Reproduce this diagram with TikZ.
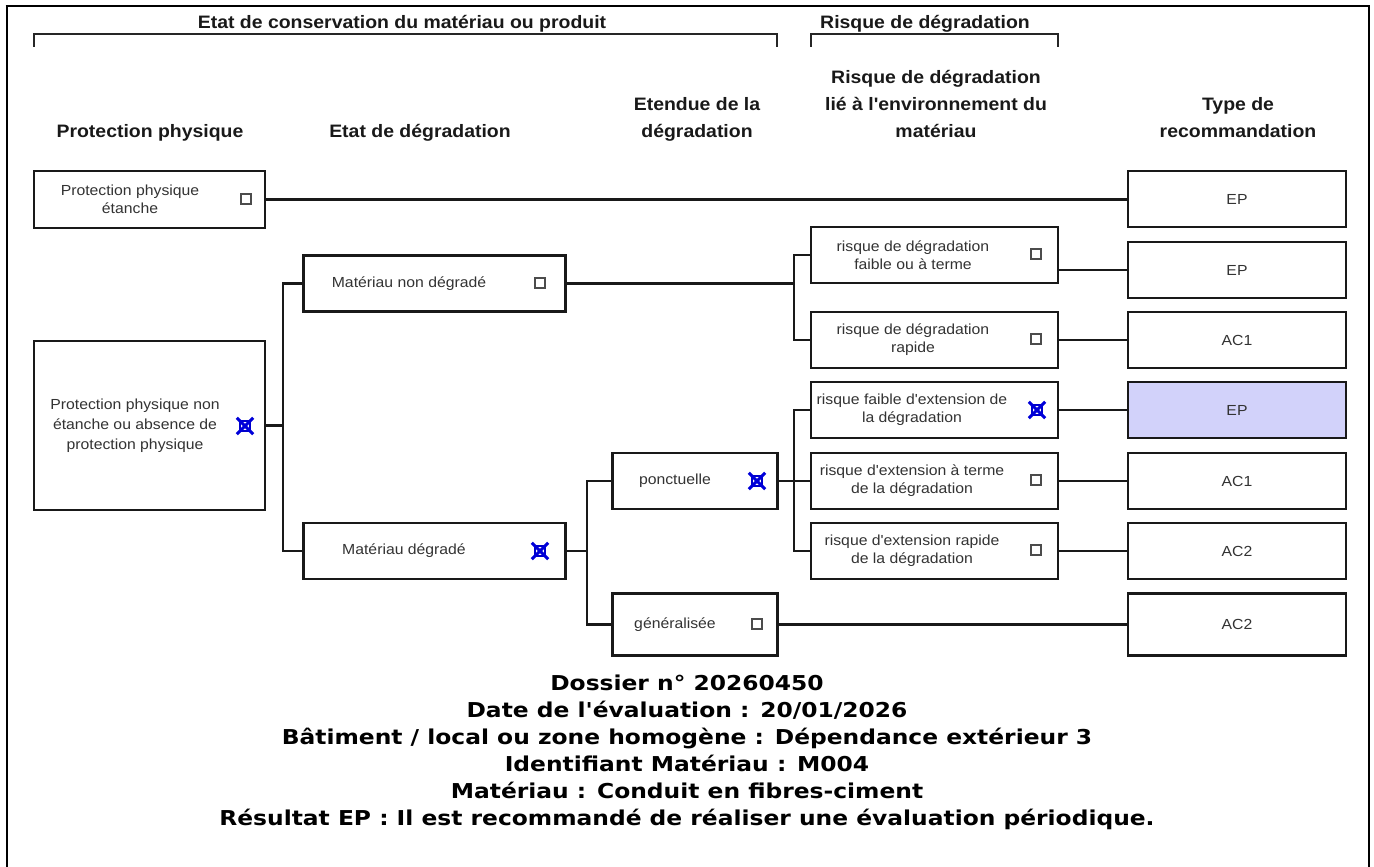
\documentclass[tikz,border=0pt]{standalone}
\usepackage{fontspec}
\setmainfont{Liberation Sans}
\newfontfamily\arialf[FakeStretch=1.08]{Liberation Sans}
\newfontfamily\verdf[FakeStretch=1.14]{DejaVu Sans}
\begin{document}
\begin{tikzpicture}[x=1pt,y=-1pt,
  frame/.style={line width=2.6pt, black},
  thinline/.style={line width=1.2pt, black},
  brace/.style={line width=2.2pt, black!85},
  box/.style={draw=black!90, line width=2.3pt, inner sep=0pt, fill=white},
  conn/.style={line width=2.2pt, black!90},
  lbl/.style={font=\arialf\fontsize{14.6}{18}\selectfont, text=black!80, align=center, inner sep=0pt},
  hdr/.style={font=\arialf\bfseries\fontsize{18}{27}\selectfont, text=black!90, align=center, inner sep=0pt, anchor=base},
  rec/.style={font=\arialf\fontsize{14.6}{18}\selectfont, text=black!80},
  chk/.style={draw=black!70, line width=1.4pt, minimum size=10pt, inner sep=0pt},
  chkx/.style={draw=blue!80!black, line width=1.4pt, minimum size=10pt, inner sep=0pt},
  xline/.style={draw=blue!85!black, line width=3pt},
  info/.style={font=\verdf\bfseries\fontsize{20.5}{27}\selectfont, text=black, inner sep=0pt, anchor=base}
]
\useasboundingbox (0,0) rectangle (1374,867);

% page frame
\draw[thinline] (7,6) -- (1369,6);
\draw[frame] (7,6) -- (7,867);
\draw[frame] (1369,6) -- (1369,867);
\draw[frame] (5.7,6) -- (22,6);
\draw[frame] (1353,6) -- (1370.3,6);

% group headings with brackets
\node[hdr] (gEtat) at (402,29) {Etat de conservation du matériau ou produit};
\node[hdr] (gRisque) at (925,29) {Risque de dégradation};
\draw[brace] (34,47) -- (34,34) -- (777,34) -- (777,47);
\draw[brace] (811,47) -- (811,34) -- (1058,34) -- (1058,47);

% column headings (base = last line)
\node[hdr] (h1) at (150,137) {Protection physique};
\node[hdr] (h2) at (420,137) {Etat de dégradation};
\node[hdr] (h3) at (697,137) {Etendue de la\\dégradation};
\node[hdr] (h4) at (936,137) {Risque de dégradation\\lié à l'environnement du\\matériau};
\node[hdr] (h5) at (1238,137) {Type de\\recommandation};

% ---- column 1: protection physique
\node[box, minimum width=231pt, minimum height=57pt] (pe) at (149.5,199.5) {};
\node[lbl] (peT) at (130,199.5) {Protection physique\\étanche};
\node[chk] (peC) at (246,199) {};

\node[box, minimum width=231pt, minimum height=169pt] (pn) at (149.5,425.5) {};
\node[lbl, font=\arialf\fontsize{14.6}{20}\selectfont] (pnT) at (135,425.5) {Protection physique non\\étanche ou absence de\\protection physique};
\node[chkx] (pnC) at (245,426) {};

% ---- column 2: état de dégradation
\node[box, minimum width=262pt, minimum height=56pt] (mnd) at (434.5,283.5) {};
\node[lbl] (mndT) at (409,283.5) {Matériau non dégradé};
\node[chk] (mndC) at (540,283) {};

\node[box, minimum width=262pt, minimum height=56pt] (md) at (434.5,551) {};
\node[lbl] (mdT) at (404,551) {Matériau dégradé};
\node[chkx] (mdC) at (540,551) {};

% ---- column 3: étendue
\node[box, minimum width=165pt, minimum height=56pt] (pon) at (695,481) {};
\node[lbl] (ponT) at (675,481) {ponctuelle};
\node[chkx] (ponC) at (757,481) {};

\node[box, minimum width=165pt, minimum height=62pt] (gen) at (695,624.5) {};
\node[lbl] (genT) at (675,624.5) {généralisée};
\node[chk] (genC) at (757,624) {};

% ---- column 4: risque
\node[box, minimum width=247pt, minimum height=56pt] (r1) at (934.5,255) {};
\node[lbl] (r1T) at (913,255) {risque de dégradation\\faible ou à terme};
\node[chk] (r1C) at (1036,254) {};

\node[box, minimum width=247pt, minimum height=56pt] (r2) at (934.5,340) {};
\node[lbl] (r2T) at (913,340) {risque de dégradation\\rapide};
\node[chk] (r2C) at (1036,339) {};

\node[box, minimum width=247pt, minimum height=56pt] (r3) at (934.5,410) {};
\node[lbl] (r3T) at (912,410) {risque faible d'extension de\\la dégradation};
\node[chkx] (r3C) at (1037,410) {};

\node[box, minimum width=247pt, minimum height=56pt] (r4) at (934.5,481) {};
\node[lbl] (r4T) at (912,481) {risque d'extension à terme\\de la dégradation};
\node[chk] (r4C) at (1036,480) {};

\node[box, minimum width=247pt, minimum height=56pt] (r5) at (934.5,551) {};
\node[lbl] (r5T) at (912,551) {risque d'extension rapide\\de la dégradation};
\node[chk] (r5C) at (1036,550) {};

% ---- column 5: type de recommandation
\definecolor{selfill}{RGB}{210,210,250}
\node[box, minimum width=218pt, minimum height=56pt, rec] (t1) at (1237,199) {EP};
\node[box, minimum width=218pt, minimum height=56pt, rec] (t2) at (1237,270) {EP};
\node[box, minimum width=218pt, minimum height=56pt, rec] (t3) at (1237,340) {AC1};
\node[box, minimum width=218pt, minimum height=56pt, rec, fill=selfill] (t4) at (1237,410) {EP};
\node[box, minimum width=218pt, minimum height=56pt, rec] (t5) at (1237,481) {AC1};
\node[box, minimum width=218pt, minimum height=56pt, rec] (t6) at (1237,551) {AC2};
\node[box, minimum width=218pt, minimum height=62pt, rec] (t7) at (1237,624.5) {AC2};

% crosses on the ticked boxes
\foreach \c in {pnC, mdC, ponC, r3C}{
  \draw[xline] ([shift={(-2.5pt,2.5pt)}]\c.north west) -- ([shift={(2.5pt,-2.5pt)}]\c.south east)
               ([shift={(2.5pt,2.5pt)}]\c.north east) -- ([shift={(-2.5pt,-2.5pt)}]\c.south west);
}

% ---- connectors
\draw[conn] (pe.east) -- (pe.east -| t1.west);

\draw[conn] (pn.east) -| ([xshift=-19pt]mnd.west) -- (mnd.west);
\draw[conn] (pn.east) -| ([xshift=-19pt]md.west) -- (md.west);

\draw[conn] (mnd.east) -| ([xshift=-16pt]r1.west) -- (r1.west);
\draw[conn] (mnd.east) -| ([xshift=-16pt]r2.west) -- (r2.west);

\draw[conn] (md.east) -| ([xshift=-24pt]pon.west) -- (pon.west);
\draw[conn] (md.east) -| ([xshift=-24pt]gen.west) -- (gen.west);

\draw[conn] (pon.east) -| ([xshift=-16pt]r3.west) -- (r3.west);
\draw[conn] (pon.east) -- (r4.west);
\draw[conn] (pon.east) -| ([xshift=-16pt]r5.west) -- (r5.west);

\draw[conn] (r1.east |- t2.west) -- (t2.west);
\draw[conn] (r2.east) -- (t3.west);
\draw[conn] (r3.east) -- (t4.west);
\draw[conn] (r4.east) -- (t5.west);
\draw[conn] (r5.east) -- (t6.west);
\draw[conn] (gen.east) -- (gen.east -| t7.west);

% ---- summary
\node[info] (i1) at (687,690) {Dossier n° 20260450};
\node[info] (i2) at (687,717) {Date de l'évaluation : 20/01/2026};
\node[info] (i3) at (687,744) {Bâtiment / local ou zone homogène : Dépendance extérieur 3};
\node[info] (i4) at (687,771) {Identifiant Matériau : M004};
\node[info] (i5) at (687,798) {Matériau : Conduit en fibres-ciment};
\node[info] (i6) at (687,825) {Résultat EP : Il est recommandé de réaliser une évaluation périodique.};
\end{tikzpicture}
\end{document}
